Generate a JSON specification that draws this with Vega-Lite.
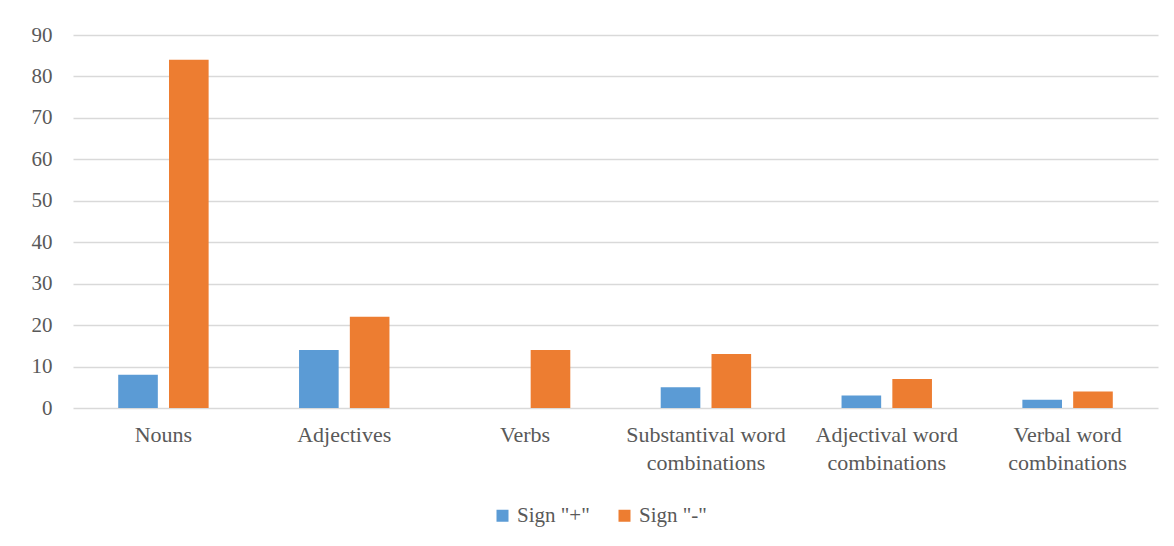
{
  "$schema": "https://vega.github.io/schema/vega-lite/v6.json",
  "width": 1085,
  "height": 373,
  "autosize": {"type": "none"},
  "padding": {"left": 73, "top": 35, "right": 16, "bottom": 138},
  "background": "white",
  "config": {
    "view": {"stroke": null},
    "font": "Liberation Serif",
    "axis": {"labelFont": "Liberation Serif", "labelColor": "#595959"},
    "legend": {"labelFont": "Liberation Serif", "labelColor": "#595959"}
  },
  "data": {
    "values": [
      {"category": "Nouns", "series": "Sign \"+\"", "value": 8},
      {"category": "Nouns", "series": "Sign \"-\"", "value": 84},
      {"category": "Adjectives", "series": "Sign \"+\"", "value": 14},
      {"category": "Adjectives", "series": "Sign \"-\"", "value": 22},
      {"category": "Verbs", "series": "Sign \"+\"", "value": 0},
      {"category": "Verbs", "series": "Sign \"-\"", "value": 14},
      {"category": "Substantival word combinations", "series": "Sign \"+\"", "value": 5},
      {"category": "Substantival word combinations", "series": "Sign \"-\"", "value": 13},
      {"category": "Adjectival word combinations", "series": "Sign \"+\"", "value": 3},
      {"category": "Adjectival word combinations", "series": "Sign \"-\"", "value": 7},
      {"category": "Verbal word combinations", "series": "Sign \"+\"", "value": 2},
      {"category": "Verbal word combinations", "series": "Sign \"-\"", "value": 4}
    ]
  },
  "mark": {"type": "bar"},
  "encoding": {
    "x": {
      "field": "category",
      "type": "nominal",
      "sort": null,
      "scale": {"paddingInner": 0.5, "paddingOuter": 0.25},
      "axis": {
        "title": null,
        "labelAngle": 0,
        "ticks": false,
        "domain": false,
        "labelFontSize": 22,
        "labelPadding": 16,
        "labelLineHeight": 28,
        "labelLimit": 300,
        "labelExpr": "indexof(datum.label, ' combinations') > 0 ? [replace(datum.label, ' combinations', ''), 'combinations'] : datum.label"
      }
    },
    "xOffset": {
      "field": "series",
      "type": "nominal",
      "sort": null,
      "scale": {"paddingInner": 0.22, "paddingOuter": 0}
    },
    "y": {
      "field": "value",
      "type": "quantitative",
      "scale": {"domain": [0, 90], "nice": false},
      "axis": {
        "title": null,
        "values": [0, 10, 20, 30, 40, 50, 60, 70, 80, 90],
        "ticks": false,
        "domain": false,
        "labelFontSize": 21,
        "labelPadding": 21,
        "gridColor": "#d9d9d9",
        "gridWidth": 1.4
      }
    },
    "color": {
      "field": "series",
      "type": "nominal",
      "sort": null,
      "scale": {"range": ["#5b9bd5", "#ed7d31"]},
      "legend": {
        "title": null,
        "orient": "none",
        "legendX": 419,
        "legendY": 470,
        "direction": "horizontal",
        "symbolType": "square",
        "symbolSize": 144,
        "symbolStrokeWidth": 0,
        "labelFontSize": 21,
        "labelOffset": 4,
        "columnPadding": 24
      }
    }
  }
}
